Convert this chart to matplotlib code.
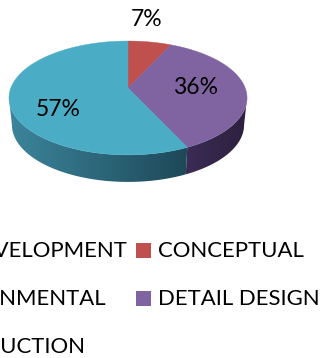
import numpy as np
import matplotlib
matplotlib.use('Agg')
import matplotlib.pyplot as plt
from matplotlib.patches import Polygon, Rectangle

plt.rcParams['font.family'] = ['Lato', 'DejaVu Sans']

# Values (0% slices only show up in the legend)
categories = ['DEVELOPMENT', 'CONCEPTUAL', 'ENVIRONMENTAL', 'DETAIL DESIGN', 'CONSTRUCTION']
shares = [0, 7, 0, 36, 57]
colors = ['#4F81BD', '#C0504D', '#9BBB59', '#8064A2', '#4BACC6']
wall_left = {'DETAIL DESIGN': (58, 44, 84), 'CONSTRUCTION': (60, 133, 156)}
wall_right = {'DETAIL DESIGN': (44, 32, 62), 'CONSTRUCTION': (29, 72, 88)}

CX, CY = 128, 88      # where the slices meet, in pixels
BX, AY = 117.2, 55.2  # disc radius before perspective
K = 0.175             # perspective strength
DEPTH = 27
BOTTOM_SCALE = 0.975


def top_xy(theta):
    # theta clockwise from 12 o'clock on the flat disc
    u, v = np.sin(theta), np.cos(theta)
    w = 1 + K * v
    return CX + BX * u / w, CY - AY * v / w


def bottom_xy(theta):
    x, y = top_xy(theta)
    return CX + (x - CX) * BOTTOM_SCALE, y + DEPTH


fig = plt.figure(figsize=(3.21, 3.58), dpi=100)
ax = fig.add_axes([0, 0, 1, 1])
ax.axis('off')

# slice boundaries
fracs = np.array(shares) / sum(shares)
edges = np.concatenate([[0], np.cumsum(fracs)]) * 2 * np.pi

# the wall only shows between the two widest points of the disc
wall_start = np.arccos(-K)
wall_end = 2 * np.pi - wall_start

for cat, s, e in zip(categories, edges[:-1], edges[1:]):
    lo, hi = max(s, wall_start), min(e, wall_end)
    if hi <= lo or e <= s:
        continue
    th = np.linspace(lo, hi, 150)
    tx, ty = top_xy(th)
    bx, by = bottom_xy(th)
    pts = np.column_stack([np.r_[tx, bx[::-1]], np.r_[ty, by[::-1]]])
    x_min, x_max = pts[:, 0].min(), pts[:, 0].max()
    ramp = np.linspace(0, 1, 128)[None, :, None]
    c0 = np.array(wall_left[cat]) / 255
    c1 = np.array(wall_right[cat]) / 255
    im = ax.imshow(c0 + (c1 - c0) * ramp, extent=(x_min, x_max, by.max() + 1, ty.min() - 1),
                   aspect='auto', interpolation='bilinear', zorder=2)
    clip = Polygon(pts, closed=True, transform=ax.transData, facecolor='none', edgecolor='none')
    ax.add_patch(clip)
    im.set_clip_path(clip)

# top face
for cat, col, s, e in zip(categories, colors, edges[:-1], edges[1:]):
    if e <= s:
        continue
    th = np.linspace(s, e, 120)
    x, y = top_xy(th)
    pts = np.column_stack([np.r_[CX, x], np.r_[CY, y]])
    ax.add_patch(Polygon(pts, closed=True, facecolor=col, edgecolor=col, lw=0.3, zorder=3))

ax.set_xlim(0, 321)
ax.set_ylim(358, 0)

# percentage labels
label_pos = [(147, 20), (196, 88), (58, 110)]
shown = [v for v in shares if v > 0]
for v, (lx, ly) in zip(shown, label_pos):
    ax.text(lx, ly, f'{v}%', fontsize=16.5, color='black', ha='center', va='center', zorder=5)

# legend, the left column runs off the figure
LEGEND_SIZE = 15.9
ax.text(127, 251, categories[0], fontsize=LEGEND_SIZE, ha='right', va='center', color='black')
ax.text(106, 299, categories[2], fontsize=LEGEND_SIZE, ha='right', va='center', color='black')
ax.text(85, 347, categories[4], fontsize=LEGEND_SIZE, ha='right', va='center', color='black')
for idx, ly in [(1, 250), (3, 298)]:
    ax.add_patch(Rectangle((136, ly - 7.5), 15, 15, facecolor=colors[idx], edgecolor='none'))
    ax.text(158, ly + 1, categories[idx], fontsize=LEGEND_SIZE, ha='left', va='center', color='black')

fig.savefig('out.png', dpi=100)
